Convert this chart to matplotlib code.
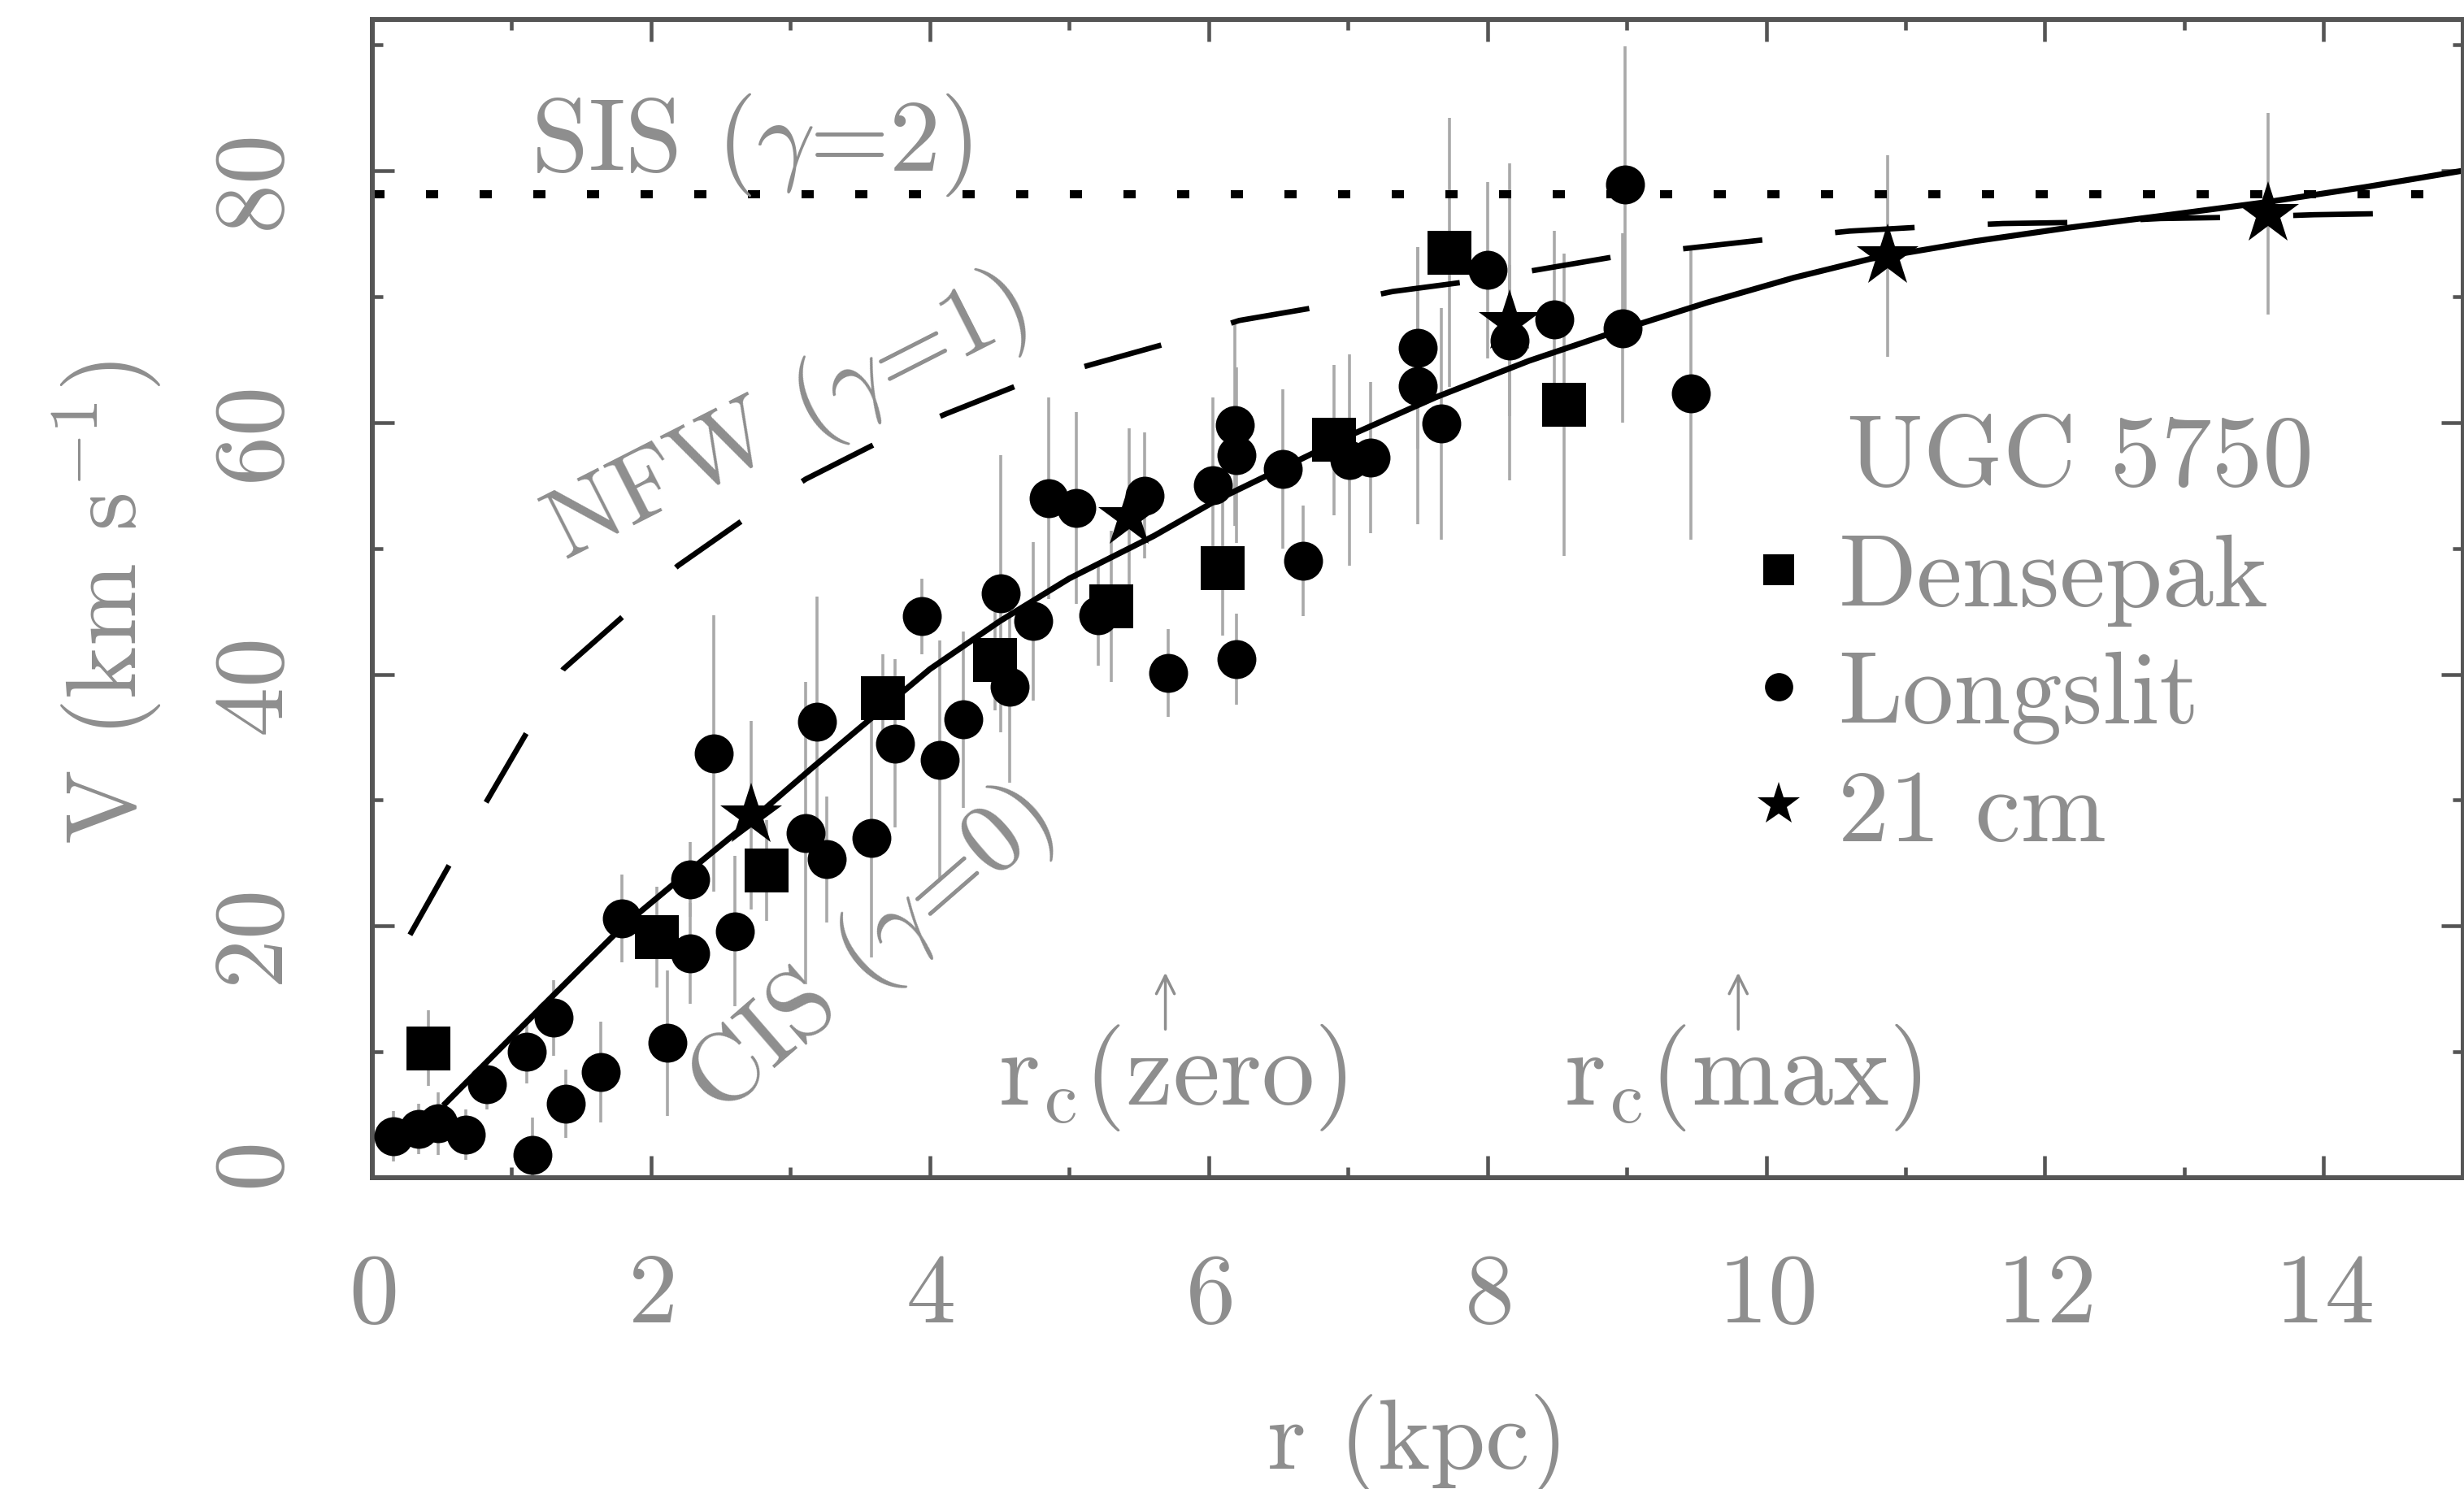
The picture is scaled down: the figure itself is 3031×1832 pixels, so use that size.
import matplotlib
matplotlib.use('Agg')
import matplotlib.pyplot as plt
from matplotlib.lines import Line2D
from matplotlib.ticker import MultipleLocator

plt.rcParams['font.family'] = ['cmr10', 'DejaVu Serif']
plt.rcParams['mathtext.fontset'] = 'cm'
plt.rcParams['axes.formatter.use_mathtext'] = True

# ---------------- data ----------------
# Densepak (squares)
r_dense = [0.40, 2.04, 2.83, 3.66, 4.47, 5.30, 6.10, 6.90, 7.73, 8.55]
v_dense = [10.3, 19.1, 24.4, 38.1, 41.1, 45.4, 48.4, 58.6, 73.5, 61.4]
e_dense = [3.0, 4.0, 4.0, 3.5, 4.0, 6.0, 5.3, 6.0, 10.7, 12.0]

# Longslit (circles)
r_long = [0.15, 0.33, 0.47, 0.67, 0.82, 1.11, 1.15, 1.30, 1.39, 1.64,
          1.79, 2.12, 2.28, 2.28, 2.45, 2.60, 3.11, 3.19, 3.26, 3.58,
          3.75, 3.94, 4.07, 4.24, 4.51, 4.57, 4.74, 4.85, 5.05, 5.21,
          5.54, 5.71, 6.03, 6.19, 6.20, 6.20, 6.53, 6.68, 7.01, 7.16,
          7.50, 7.50, 7.67, 8.00, 8.16, 8.48, 8.97, 8.99, 9.46]
v_long = [3.3, 3.9, 4.3, 3.4, 7.4, 10.0, 1.8, 12.7, 5.9, 8.4,
          20.6, 10.7, 17.8, 23.7, 33.7, 19.6, 27.4, 36.2, 25.3, 27.0,
          34.5, 44.6, 33.2, 36.4, 46.4, 39.0, 44.2, 54.0, 53.2, 44.7,
          54.2, 40.1, 55.0, 59.8, 57.4, 41.2, 56.3, 49.0, 57.0, 57.2,
          65.9, 62.9, 59.9, 72.1, 66.5, 68.2, 67.5, 78.9, 62.3]
e_long = [2.0, 2.0, 2.5, 2.0, 2.0, 2.5, 3.0, 3.0, 2.7, 4.0,
          3.5, 5.8, 4.0, 3.0, 11.0, 6.0, 12.0, 10.0, 5.0, 9.5,
          6.7, 3.0, 9.5, 7.0, 11.0, 7.6, 6.3, 8.0, 7.6, 4.0,
          5.0, 3.5, 7.0, 8.0, 7.0, 3.6, 6.3, 4.4, 8.4, 6.0,
          8.0, 11.0, 9.2, 7.0, 6.0, 7.0, 7.5, 11.0, 11.6]

# 21 cm (stars)
r_hi = [2.72, 5.43, 8.16, 10.87, 13.60]
v_hi = [28.8, 52.5, 68.0, 73.2, 76.6]
e_hi = [7.5, 7.0, 12.6, 8.0, 8.0]

# model curves
r_cis = [0.51, 1.29, 1.80, 2.30, 2.72, 3.16, 3.45, 4.00, 4.50, 5.00,
         5.61, 6.07, 7.00, 7.63, 8.30, 8.97, 9.57, 10.20, 10.75, 11.50,
         12.19, 12.90, 13.59, 14.30, 15.0]
v_cis = [5.75, 14.4, 20.0, 24.6, 28.4, 32.6, 35.3, 40.4, 44.2, 47.6,
         51.0, 53.9, 58.9, 62.0, 64.9, 67.4, 69.5, 71.5, 73.0, 74.4,
         75.5, 76.5, 77.5, 78.7, 80.0]

r_nfw = [0.27, 0.55, 0.82, 1.11, 1.37, 1.82, 2.19, 2.68, 3.11, 3.61,
         4.12, 4.62, 5.16, 5.71, 6.22, 6.80, 7.32, 7.87, 8.40, 8.96,
         9.49, 10.06, 10.60, 11.17, 11.70, 12.30, 12.83, 13.39, 13.93, 14.50]
v_nfw = [19.3, 24.8, 29.9, 35.4, 40.4, 44.8, 48.6, 52.4, 55.5, 58.3,
         60.7, 62.9, 64.6, 66.3, 68.1, 69.2, 70.4, 71.2, 72.2, 73.25,
         73.9, 74.6, 75.2, 75.55, 75.8, 75.9, 76.2, 76.3, 76.5, 76.6]

r_sis = [0.0, 15.0]
v_sis = [78.1, 78.1]

legend_labels = ['Densepak', 'Longslit', '21 cm']
x_ticks = [0, 2, 4, 6, 8, 10, 12, 14]
y_ticks = [0, 20, 40, 60, 80]

# ---------------- styling ----------------
GRAY = '#8e8e8e'
AXC = '#555555'
ERRC = '#a9a9a9'
FS = 88

fig = plt.figure(figsize=(30.31, 18.33), dpi=100)
ax = fig.add_axes([0.1511, 0.2089, 0.8485, 0.7774])
ax.set_xlim(0, 15)
ax.set_ylim(0, 92)

for r, v, e in [(r_long, v_long, e_long), (r_dense, v_dense, e_dense), (r_hi, v_hi, e_hi)]:
    ax.errorbar(r, v, yerr=e, fmt='none', ecolor=ERRC, elinewidth=2.6, capsize=0, zorder=1)

ax.plot(r_sis, v_sis, color='k', lw=7.2, linestyle=(0, (1.5, 5.1)),
        dash_capstyle='butt', zorder=2)
ax.plot(r_nfw, v_nfw, color='k', lw=4.8, linestyle=(0, (14.7, 13.5)),
        dash_capstyle='butt', zorder=2)
ax.plot(r_cis, v_cis, color='k', lw=5.2, solid_capstyle='butt',
        solid_joinstyle='round', zorder=2)

ax.plot(r_long, v_long, 'o', color='k', ms=34.5, mew=0, zorder=4)
ax.plot(r_dense, v_dense, 's', color='k', ms=39, mew=0, zorder=4)
ax.plot(r_hi, v_hi, '*', color='k', ms=58, mew=0, zorder=4)

# axes styling
for s in ax.spines.values():
    s.set_linewidth(4.3)
    s.set_color(AXC)
ax.set_xticks(x_ticks)
ax.set_yticks(y_ticks)
ax.xaxis.set_minor_locator(MultipleLocator(1))
ax.yaxis.set_minor_locator(MultipleLocator(10))
ax.tick_params(which='both', direction='in', top=True, right=True,
               color=AXC, width=3.3, labelcolor=GRAY, labelsize=FS)
ax.tick_params(which='major', length=19.4)
ax.tick_params(which='minor', length=9.4)
ax.tick_params(axis='x', pad=66)
ax.tick_params(axis='y', pad=62, labelrotation=90)

ax.set_xlabel('r (kpc)', fontsize=FS, color=GRAY)
ax.xaxis.set_label_coords(0.5, -0.186)
ax.set_ylabel('V (km s$^{-1}$)', fontsize=FS, color=GRAY)
ax.yaxis.set_label_coords(-0.100, 0.497)

# annotations
ax.text(2.72, 80.1, 'SIS ($\\gamma$=2)', fontsize=FS + 3, color=GRAY,
        ha='center', va='baseline')
ax.text(2.97, 60.2, 'NFW ($\\gamma$=1)', fontsize=FS, color=GRAY,
        ha='center', va='center', rotation=27, rotation_mode='anchor')
ax.text(3.57, 17.9, 'CIS ($\\gamma$=0)', fontsize=FS, color=GRAY,
        ha='center', va='center', rotation=41, rotation_mode='anchor')
ax.text(10.58, 55.1, 'UGC 5750', fontsize=FS + 2, color=GRAY, ha='left', va='baseline')

ax.text(5.74, 5.85, 'r$_{\\mathrm{c}}$(zero)', fontsize=FS + 6, color=GRAY,
        ha='center', va='baseline')
ax.text(9.83, 5.85, 'r$_{\\mathrm{c}}$(max)', fontsize=FS + 6, color=GRAY,
        ha='center', va='baseline')
for xa in (5.69, 9.80):
    ax.annotate('', xy=(xa, 16.3), xytext=(xa, 11.8),
                arrowprops=dict(arrowstyle='->', color=GRAY, lw=2.5,
                                mutation_scale=40, shrinkA=0, shrinkB=0))

handles = [Line2D([], [], marker='s', ls='none', color='k', ms=28, mew=0),
           Line2D([], [], marker='o', ls='none', color='k', ms=25, mew=0),
           Line2D([], [], marker='*', ls='none', color='k', ms=40, mew=0)]
ax.legend(handles, legend_labels, loc='upper left', bbox_to_anchor=(0.6585, 0.556),
          frameon=False, fontsize=FS + 3, handlelength=0.58, handletextpad=0.29,
          labelspacing=0.24, borderpad=0, borderaxespad=0, labelcolor=GRAY)

fig.savefig('out.png', dpi=100)
